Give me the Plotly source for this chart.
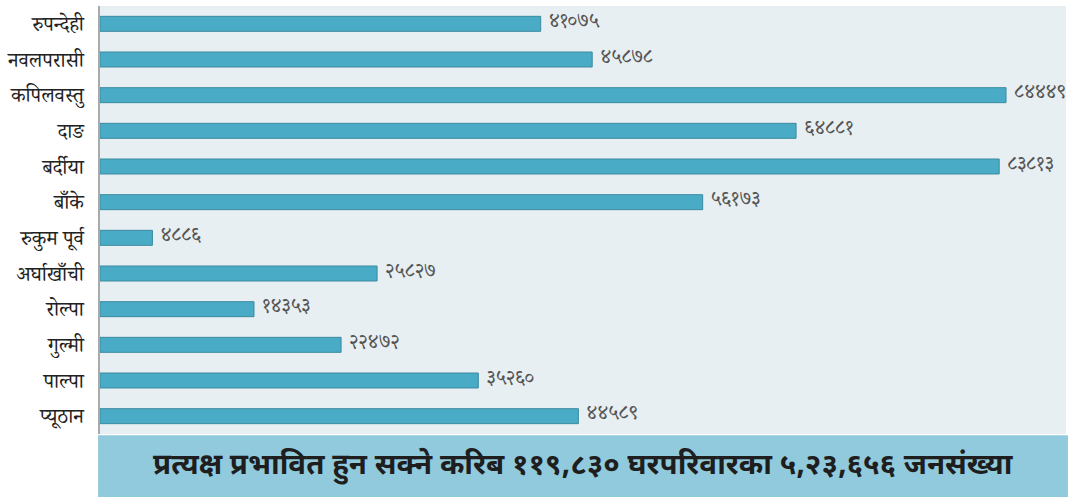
import plotly.graph_objects as go

districts = ["रुपन्देही", "नवलपरासी", "कपिलवस्तु", "दाङ", "बर्दीया", "बाँके",
             "रुकुम पूर्व", "अर्घाखाँची", "रोल्पा", "गुल्मी", "पाल्पा", "प्यूठान"]
households = [41075, 45878, 84449, 64881, 83813, 56173,
              4886, 25827, 14353, 22472, 35260, 44589]
banner_text = "प्रत्यक्ष प्रभावित हुन सक्ने करिब ११९,८३० घरपरिवारका ५,२३,६५६ जनसंख्या"

DEV = str.maketrans("0123456789", "०१२३४५६७८९")
labels = [str(v).translate(DEV) for v in households]

font_serif = "Noto Serif Devanagari, Noto Sans Devanagari, Lohit Devanagari, FreeSerif, serif"
font_sans = "Noto Sans Devanagari, Noto Sans, sans-serif"

fig = go.Figure(go.Bar(
    x=households, y=districts, orientation="h",
    marker=dict(color="#4aabc6", line=dict(color="#3a8aa0", width=1)),
    width=0.42,
    text=labels, texttemplate=" %{text}",
    textposition="outside", cliponaxis=False, constraintext="none",
    textfont=dict(size=20, color="#555555", family=font_serif),
))

fig.update_layout(
    width=1081, height=497,
    margin=dict(l=100, r=15, t=6, b=63),
    paper_bgcolor="white", plot_bgcolor="#e8eff2",
    showlegend=False,
    xaxis=dict(range=[0, 90040], visible=False, showgrid=False, zeroline=False),
    yaxis=dict(autorange="reversed", showgrid=False, zeroline=False,
               showline=True, linecolor="#aaaaaa", linewidth=2,
               ticks="", ticklabelstandoff=10,
               tickfont=dict(size=20.5, color="#222222", family=font_serif)),
    font=dict(family=font_serif),
    shapes=[dict(type="rect", xref="paper", yref="paper",
                 x0=-0.002, x1=1.002, y0=-63/428, y1=-0.003,
                 fillcolor="#91cadc", line=dict(width=0), layer="above")],
    annotations=[dict(text="<b>" + banner_text + "</b>", xref="paper", yref="paper",
                      x=(583-100)/966, y=-32/428, xanchor="center", yanchor="middle",
                      showarrow=False, font=dict(size=29.5, color="#1e1e1e", family=font_sans))],
)

fig.write_html("out.html", config={"displayModeBar": False},
               post_script="document.body.style.margin='0';")
